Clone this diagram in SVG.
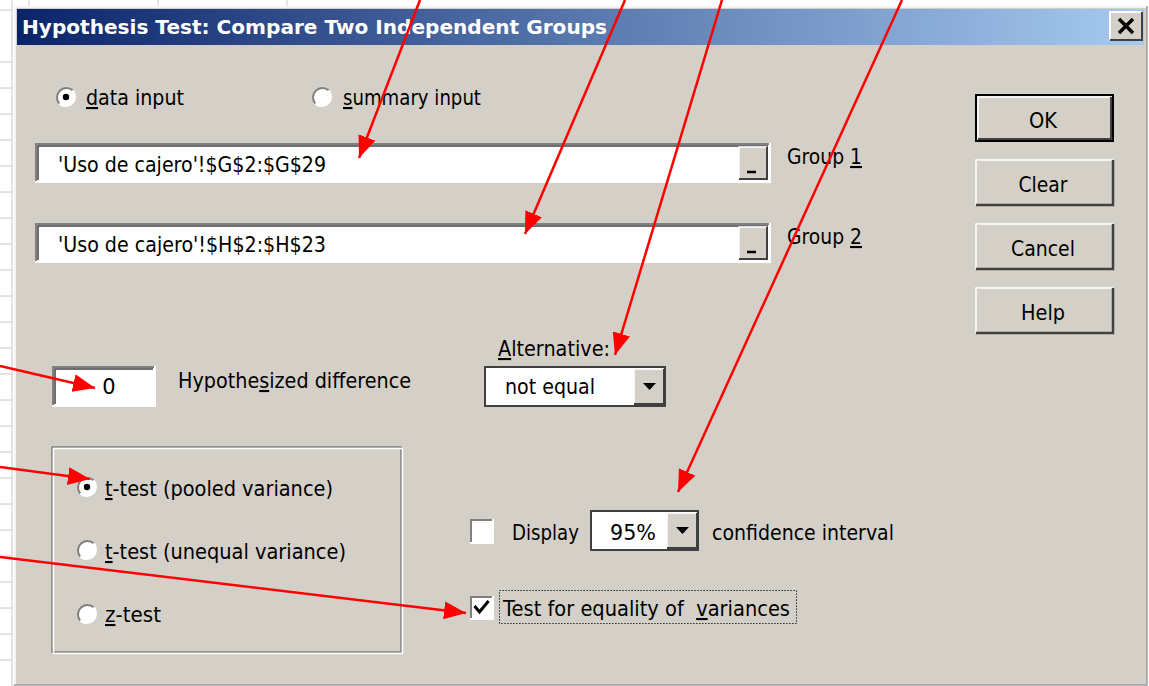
<svg xmlns="http://www.w3.org/2000/svg" width="1149" height="686" viewBox="0 0 1149 686">
<defs>
<linearGradient id="tg" x1="0" y1="0" x2="1" y2="0">
<stop offset="0" stop-color="#0a246a"/>
<stop offset="1" stop-color="#a6caf0"/>
</linearGradient>
<marker id="ah" markerUnits="userSpaceOnUse" markerWidth="24" markerHeight="18" refX="22" refY="9" orient="auto">
<path d="M0,0 L22,9 L0,18 z" fill="#ff0000"/>
</marker>
</defs>
<style>
text{font-family:"DejaVu Sans","Liberation Sans",sans-serif;font-size:21px;fill:#000}
.title{font-weight:bold;fill:#fff;font-size:20px}
.u{text-decoration:underline}
.dk{stroke:#808080;stroke-width:2;fill:none}
.dk2{stroke:#404040;stroke-width:1.5;fill:none}
.lt{stroke:#ffffff;stroke-width:2;fill:none}
.bl{stroke:#000;stroke-width:2;fill:none}
.grid{stroke:#c8c8c8;stroke-width:1}
.arrow{stroke:#ff0000;stroke-width:2.5;fill:none;marker-end:url(#ah)}
</style>
<!-- spreadsheet background -->
<rect x="0" y="0" width="1149" height="686" fill="#ffffff"/>
<g id="sheet">
<line class="grid" x1="12" y1="0" x2="12" y2="686"/>
<line class="grid" x1="29" y1="0" x2="29" y2="7"/>
<line class="grid" x1="158" y1="0" x2="158" y2="7"/>
<line class="grid" x1="287" y1="0" x2="287" y2="7"/>
<line class="grid" x1="420" y1="0" x2="420" y2="7"/>
<line class="grid" x1="0" y1="10" x2="12" y2="10"/>
<line class="grid" x1="0" y1="62" x2="12" y2="62"/>
<line class="grid" x1="0" y1="88" x2="12" y2="88"/>
<line class="grid" x1="0" y1="114" x2="12" y2="114"/>
<line class="grid" x1="0" y1="140" x2="12" y2="140"/>
<line class="grid" x1="0" y1="166" x2="12" y2="166"/>
<line class="grid" x1="0" y1="192" x2="12" y2="192"/>
<line class="grid" x1="0" y1="218" x2="12" y2="218"/>
<line class="grid" x1="0" y1="244" x2="12" y2="244"/>
<line class="grid" x1="0" y1="270" x2="12" y2="270"/>
<line class="grid" x1="0" y1="296" x2="12" y2="296"/>
<line class="grid" x1="0" y1="322" x2="12" y2="322"/>
<line class="grid" x1="0" y1="348" x2="12" y2="348"/>
<line class="grid" x1="0" y1="374" x2="12" y2="374"/>
<line class="grid" x1="0" y1="400" x2="12" y2="400"/>
<line class="grid" x1="0" y1="426" x2="12" y2="426"/>
<line class="grid" x1="0" y1="452" x2="12" y2="452"/>
<line class="grid" x1="0" y1="478" x2="12" y2="478"/>
<line class="grid" x1="0" y1="504" x2="12" y2="504"/>
<line class="grid" x1="0" y1="530" x2="12" y2="530"/>
<line class="grid" x1="0" y1="556" x2="12" y2="556"/>
<line class="grid" x1="0" y1="582" x2="12" y2="582"/>
<line class="grid" x1="0" y1="608" x2="12" y2="608"/>
<line class="grid" x1="0" y1="634" x2="12" y2="634"/>
<line class="grid" x1="0" y1="660" x2="12" y2="660"/>
</g>
<!-- dialog frame -->
<g id="dialog">
<rect x="14" y="6" width="1133" height="679" fill="#d4d0c8"/>
<path d="M15,685 V7 H1146" stroke="#ffffff" stroke-width="1.5" fill="none"/>
<path d="M14,685 H1147 V6" stroke="#a0a0a0" stroke-width="1.5" fill="none"/>
<rect x="17" y="9" width="1127" height="36" fill="url(#tg)"/>
<text class="title" x="22" y="34" textLength="585" lengthAdjust="spacingAndGlyphs">Hypothesis Test: Compare Two Independent Groups</text>
</g>
<g id="close">
<rect x="1110" y="12" width="32" height="28" fill="#d4d0c8"/>
<path class="lt" d="M1110,40 V12 H1142" stroke-width="1.5"/>
<path d="M1110,40 H1142 V12" stroke="#404040" stroke-width="2" fill="none"/>
<path d="M1119,19 L1133,33 M1133,19 L1119,33" stroke="#000" stroke-width="3.5"/>
</g>
<!-- radio data input -->
<g id="radio-data">
<circle cx="66" cy="97" r="9.5" fill="#fff"/>
<path d="M59.3,103.7 A9.5,9.5 0 0 1 72.7,90.3" stroke="#808080" stroke-width="2" fill="none"/>
<path d="M72.7,90.3 A9.5,9.5 0 0 1 59.3,103.7" stroke="#ffffff" stroke-width="2" fill="none"/>
<circle cx="66" cy="97" r="3.2" fill="#000"/>
<text x="86" y="105" textLength="98" lengthAdjust="spacingAndGlyphs"><tspan class="u">d</tspan>ata input</text>
</g>
<g id="radio-summary">
<circle cx="322" cy="97" r="9.5" fill="#fff"/>
<path d="M315.3,103.7 A9.5,9.5 0 0 1 328.7,90.3" stroke="#808080" stroke-width="2" fill="none"/>
<path d="M328.7,90.3 A9.5,9.5 0 0 1 315.3,103.7" stroke="#ffffff" stroke-width="2" fill="none"/>
<text x="343" y="105" textLength="138" lengthAdjust="spacingAndGlyphs"><tspan class="u">s</tspan>ummary input</text>
</g>
<!-- group 1 field -->
<g id="group1">
<rect x="35" y="143" width="735" height="39" fill="#fff"/>
<path class="dk" d="M36,182 V144 H770"/>
<path class="dk2" d="M38,180 V146 H768"/>
<path class="lt" d="M35,182 H770 V143"/>
<rect x="739" y="147" width="28" height="32" fill="#d4d0c8"/>
<path d="M739,179 V147 H767" stroke="#fff" stroke-width="1.5" fill="none"/>
<path d="M739,179 H767 V147" stroke="#404040" stroke-width="2" fill="none"/>
<line x1="747" y1="172" x2="756" y2="172" stroke="#000" stroke-width="2.5"/>
<text x="58" y="172" textLength="268" lengthAdjust="spacingAndGlyphs">'Uso de cajero'!$G$2:$G$29</text>
<text x="787" y="164" textLength="75" lengthAdjust="spacingAndGlyphs">Group <tspan class="u">1</tspan></text>
</g>
<g id="group2">
<rect x="35" y="223" width="735" height="39" fill="#fff"/>
<path class="dk" d="M36,262 V224 H770"/>
<path class="dk2" d="M38,260 V226 H768"/>
<path class="lt" d="M35,262 H770 V223"/>
<rect x="739" y="227" width="28" height="32" fill="#d4d0c8"/>
<path d="M739,259 V227 H767" stroke="#fff" stroke-width="1.5" fill="none"/>
<path d="M739,259 H767 V227" stroke="#404040" stroke-width="2" fill="none"/>
<line x1="747" y1="252" x2="756" y2="252" stroke="#000" stroke-width="2.5"/>
<text x="58" y="252" textLength="268" lengthAdjust="spacingAndGlyphs">'Uso de cajero'!$H$2:$H$23</text>
<text x="787" y="244" textLength="75" lengthAdjust="spacingAndGlyphs">Group <tspan class="u">2</tspan></text>
</g>
<!-- buttons -->
<g id="btn-ok">
<rect x="976" y="95" width="137" height="46" fill="#d4d0c8" stroke="#000" stroke-width="2"/>
<path d="M978,139 V97 H1111" stroke="#fff" stroke-width="1.5" fill="none"/>
<path d="M978,139 H1111 V97" stroke="#404040" stroke-width="2" fill="none"/>
<text x="1043" y="128" text-anchor="middle" textLength="28" lengthAdjust="spacingAndGlyphs">OK</text>
</g>
<g id="btn-clear">
<rect x="976" y="160" width="137" height="45" fill="#d4d0c8"/>
<path d="M976,205 V160 H1113" stroke="#fff" stroke-width="1.5" fill="none"/>
<path d="M976,205 H1113 V160" stroke="#404040" stroke-width="2.5" fill="none"/>
<text x="1043" y="192" text-anchor="middle" textLength="49" lengthAdjust="spacingAndGlyphs">Clear</text>
</g>
<g id="btn-cancel">
<rect x="976" y="224" width="137" height="45" fill="#d4d0c8"/>
<path d="M976,269 V224 H1113" stroke="#fff" stroke-width="1.5" fill="none"/>
<path d="M976,269 H1113 V224" stroke="#404040" stroke-width="2.5" fill="none"/>
<text x="1043" y="256" text-anchor="middle" textLength="64" lengthAdjust="spacingAndGlyphs">Cancel</text>
</g>
<g id="btn-help">
<rect x="976" y="288" width="137" height="45" fill="#d4d0c8"/>
<path d="M976,333 V288 H1113" stroke="#fff" stroke-width="1.5" fill="none"/>
<path d="M976,333 H1113 V288" stroke="#404040" stroke-width="2.5" fill="none"/>
<text x="1043" y="320" text-anchor="middle" textLength="44" lengthAdjust="spacingAndGlyphs">Help</text>
</g>
<!-- hypothesized difference -->
<g id="hyp-diff">
<rect x="52" y="366" width="103" height="40" fill="#fff"/>
<path class="dk" d="M53,406 V367 H155"/>
<path class="dk2" d="M55,404 V369 H153"/>
<path class="lt" d="M52,406 H155 V366"/>
<text x="109" y="394" text-anchor="middle">0</text>
<text x="178" y="388" textLength="233" lengthAdjust="spacingAndGlyphs">Hypothe<tspan class="u">s</tspan>ized difference</text>
</g>
<!-- alternative -->
<g id="alternative">
<text x="498" y="356" textLength="112" lengthAdjust="spacingAndGlyphs"><tspan class="u">A</tspan>lternative:</text>
<rect x="484" y="366" width="182" height="41" fill="#fff"/>
<path d="M485,407 V367 H666" stroke="#404040" stroke-width="2" fill="none"/>
<path d="M484,406 H665 V366" stroke="#404040" stroke-width="2" fill="none"/>
<rect x="634" y="369" width="30" height="35" fill="#d4d0c8"/>
<path d="M634,404 V369 H664" stroke="#fff" stroke-width="1.5" fill="none"/>
<path d="M634,404 H664 V369" stroke="#404040" stroke-width="2" fill="none"/>
<path d="M643,383 H656 L649.5,390 z" fill="#000"/>
<text x="505" y="394" textLength="90" lengthAdjust="spacingAndGlyphs">not equal</text>
</g>
<!-- test type group -->
<g id="test-type">
<rect x="52" y="447" width="349" height="205" fill="none" stroke="#808080" stroke-width="1.5"/>
<rect x="53.5" y="448.5" width="349" height="205" fill="none" stroke="#ffffff" stroke-width="1.5"/>
<circle cx="87" cy="487" r="9.5" fill="#fff"/>
<path d="M80.3,493.7 A9.5,9.5 0 0 1 93.7,480.3" stroke="#808080" stroke-width="2" fill="none"/>
<path d="M93.7,480.3 A9.5,9.5 0 0 1 80.3,493.7" stroke="#ffffff" stroke-width="2" fill="none"/>
<circle cx="87" cy="487" r="3.2" fill="#000"/>
<text x="105" y="496" textLength="228" lengthAdjust="spacingAndGlyphs"><tspan class="u">t</tspan>-test (pooled variance)</text>
<circle cx="87" cy="550" r="9.5" fill="#fff"/>
<path d="M80.3,556.7 A9.5,9.5 0 0 1 93.7,543.3" stroke="#808080" stroke-width="2" fill="none"/>
<path d="M93.7,543.3 A9.5,9.5 0 0 1 80.3,556.7" stroke="#ffffff" stroke-width="2" fill="none"/>
<text x="105" y="559" textLength="241" lengthAdjust="spacingAndGlyphs"><tspan class="u">t</tspan>-test (unequal variance)</text>
<circle cx="87" cy="614" r="9.5" fill="#fff"/>
<path d="M80.3,620.7 A9.5,9.5 0 0 1 93.7,607.3" stroke="#808080" stroke-width="2" fill="none"/>
<path d="M93.7,607.3 A9.5,9.5 0 0 1 80.3,620.7" stroke="#ffffff" stroke-width="2" fill="none"/>
<text x="105" y="622" textLength="56" lengthAdjust="spacingAndGlyphs"><tspan class="u">z</tspan>-test</text>
</g>
<!-- display confidence interval -->
<g id="display-ci">
<rect x="470" y="519" width="23" height="24" fill="#fff"/>
<path class="dk" d="M471,543 V520 H493"/>
<path class="lt" d="M470,543 H493 V519"/>
<text x="512" y="540" textLength="67" lengthAdjust="spacingAndGlyphs">Display</text>
<rect x="590" y="510" width="109" height="41" fill="#fff"/>
<path d="M591,551 V511 H699" stroke="#404040" stroke-width="2" fill="none"/>
<path d="M590,550 H698 V510" stroke="#404040" stroke-width="2" fill="none"/>
<rect x="667" y="513" width="30" height="35" fill="#d4d0c8"/>
<path d="M667,548 V513 H697" stroke="#fff" stroke-width="1.5" fill="none"/>
<path d="M667,548 H697 V513" stroke="#404040" stroke-width="2" fill="none"/>
<path d="M676,527 H689 L682.5,534 z" fill="#000"/>
<text x="610" y="540" textLength="46" lengthAdjust="spacingAndGlyphs">95%</text>
<text x="712" y="540" textLength="182" lengthAdjust="spacingAndGlyphs">confidence interval</text>
</g>
<!-- equality of variances -->
<g id="equal-var">
<rect x="470" y="596" width="23" height="23" fill="#fff"/>
<path class="dk" d="M471,619 V597 H493"/>
<path class="lt" d="M470,619 H493 V596"/>
<path d="M474.5,606 L479.5,612 L488.5,601" stroke="#000" stroke-width="3" fill="none"/>
<rect x="499.5" y="590.5" width="297" height="33" fill="none" stroke="#000" stroke-width="1" stroke-dasharray="1.2,1.8"/>
<text x="503" y="616" textLength="287" lengthAdjust="spacingAndGlyphs">Test for equality of&#160; <tspan class="u">v</tspan>ariances</text>
</g>
<!-- connectors -->
<g id="connectors">
<line class="arrow" x1="420" y1="0" x2="359" y2="158"/>
<line class="arrow" x1="625" y1="0" x2="525" y2="234"/>
<line class="arrow" x1="722" y1="0" x2="615" y2="355"/>
<line class="arrow" x1="902" y1="0" x2="678" y2="492"/>
<line class="arrow" x1="0" y1="366" x2="95" y2="388"/>
<line class="arrow" x1="0" y1="467" x2="90" y2="479"/>
<line class="arrow" x1="0" y1="557" x2="466" y2="613"/>
</g>
</svg>
